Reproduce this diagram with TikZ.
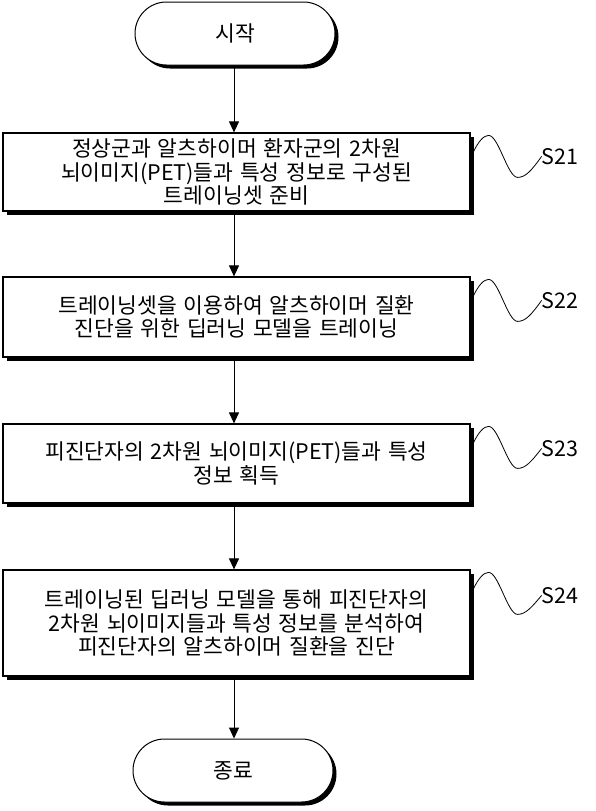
\documentclass[tikz,border=0pt]{standalone}
\usepackage{fontspec}
\setmainfont[WordSpace=1.4]{Noto Sans CJK KR}
\usetikzlibrary{arrows.meta,shapes.misc,shadows}

\begin{document}
\begin{tikzpicture}[x=1pt,y=-1pt,
  hard shadow/.style={drop shadow={shadow xshift=3.5pt,shadow yshift=-3.5pt,opacity=1,fill=black}},
  stepbox/.style={draw,line width=1.2pt,fill=white,minimum width=467pt,inner sep=0pt,
    align=center,font=\fontsize{21.5}{23.5}\selectfont,hard shadow},
  term/.style={draw,line width=1pt,rounded rectangle,minimum width=200pt,minimum height=63pt,
    inner sep=0pt,fill=white,font=\fontsize{21.5}{24}\selectfont,hard shadow},
  flow/.style={line width=1pt,-{Triangle[length=11pt,width=10pt]}},
  wave/.style={line width=0.8pt},
  steplabel/.style={anchor=west,inner sep=0pt,font=\fontsize{21.5}{24}\selectfont}]
\useasboundingbox (0,0) rectangle (595,811);
\coordinate (ax) at (234,0);

\node[term] (s) at (235,33.5) {시작};
\node[stepbox,minimum height=78pt] (b1) at (236.5,172)
  {정상군과 알츠하이머 환자군의 2차원\\뇌이미지(PET)들과 특성 정보로 구성된\\트레이닝셋 준비};
\node[stepbox,minimum height=80pt] (b2) at (236.5,317)
  {트레이닝셋을 이용하여 알츠하이머 질환\\진단을 위한 딥러닝 모델을 트레이닝};
\node[stepbox,minimum height=79pt] (b3) at (236.5,463.5)
  {피진단자의 2차원 뇌이미지(PET)들과 특성\\정보 획득};
\node[stepbox,minimum height=106pt] (b4) at (236.5,623)
  {트레이닝된 딥러닝 모델을 통해 피진단자의\\2차원 뇌이미지들과 특성 정보를 분석하여\\피진단자의 알츠하이머 질환을 진단};
\node[term] (e) at (233,770.5) {종료};

\draw[flow] (s.south -| ax) -- (b1.north -| ax);
\draw[flow] (b1.south -| ax) -- (b2.north -| ax);
\draw[flow] (b2.south -| ax) -- (b3.north -| ax);
\draw[flow] (b3.south -| ax) -- (b4.north -| ax);
\draw[flow] (b4.south -| ax) -- (e.north -| ax);

\foreach \b/\t/\dy in {b1/S21/0,b2/S22/0,b3/S23/1,b4/S24/2}{
  \begin{scope}[shift={(\b.north east)}]
    \node[steplabel] (\t) at (71,24+\dy) {\t};
    \draw[wave] (3,19) .. controls (8,9) and (13,3) .. (18,3)
      .. controls (28,3) and (37,45) .. (47,45)
      .. controls (55,45) and (61,38) .. (\t.west);
  \end{scope}
}
\end{tikzpicture}
\end{document}
